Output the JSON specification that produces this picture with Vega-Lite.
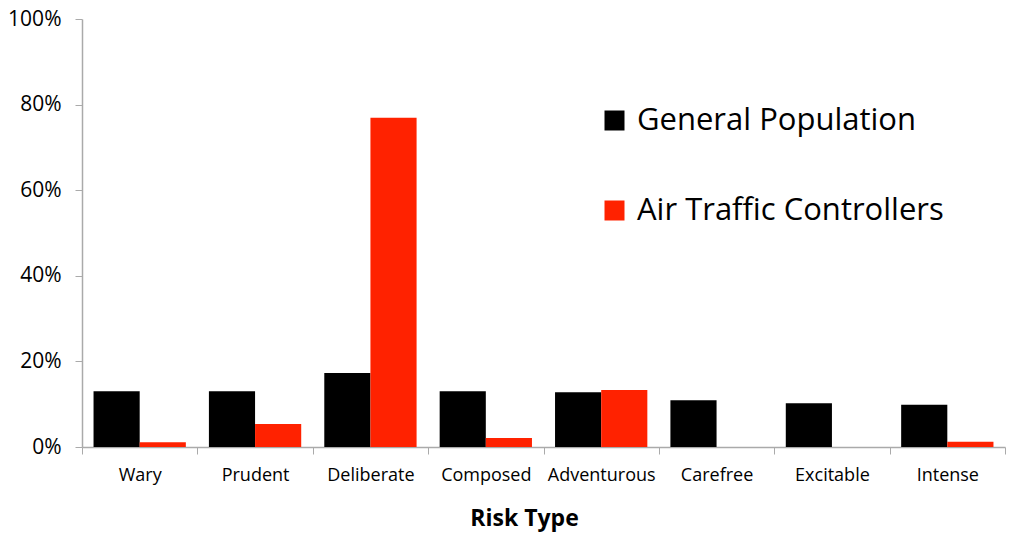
{
  "$schema": "https://vega.github.io/schema/vega-lite/v6.json",
  "width": 923,
  "height": 428,
  "autosize": {"type": "none"},
  "padding": {"left": 82, "top": 19, "right": 19, "bottom": 105},
  "background": "white",
  "config": {"view": {"stroke": null}, "font": "Open Sans"},
  "data": {
    "values": [
      {"type": "Wary", "group": "General Population", "value": 0.13},
      {"type": "Wary", "group": "Air Traffic Controllers", "value": 0.011},
      {"type": "Prudent", "group": "General Population", "value": 0.13},
      {"type": "Prudent", "group": "Air Traffic Controllers", "value": 0.054},
      {"type": "Deliberate", "group": "General Population", "value": 0.173},
      {"type": "Deliberate", "group": "Air Traffic Controllers", "value": 0.769},
      {"type": "Composed", "group": "General Population", "value": 0.13},
      {"type": "Composed", "group": "Air Traffic Controllers", "value": 0.021},
      {"type": "Adventurous", "group": "General Population", "value": 0.128},
      {"type": "Adventurous", "group": "Air Traffic Controllers", "value": 0.133},
      {"type": "Carefree", "group": "General Population", "value": 0.109},
      {"type": "Carefree", "group": "Air Traffic Controllers", "value": 0},
      {"type": "Excitable", "group": "General Population", "value": 0.102},
      {"type": "Excitable", "group": "Air Traffic Controllers", "value": 0},
      {"type": "Intense", "group": "General Population", "value": 0.099},
      {"type": "Intense", "group": "Air Traffic Controllers", "value": 0.012}
    ]
  },
  "mark": {"type": "bar"},
  "encoding": {
    "x": {
      "field": "type",
      "type": "nominal",
      "sort": null,
      "scale": {"paddingInner": 0, "paddingOuter": 0},
      "axis": {
        "title": "Risk Type",
        "labelAngle": 0,
        "tickBand": "extent",
        "tickSize": 7,
        "tickColor": "#aaaaaa",
        "domainColor": "#aaaaaa",
        "domainWidth": 1.5,
        "labelFontSize": 18,
        "labelPadding": 12,
        "labelColor": "black",
        "titleFontSize": 23,
        "titleFontWeight": "bold",
        "titleColor": "black",
        "titleX": 442,
        "titleY": 71,
        "titleBaseline": "middle"
      }
    },
    "xOffset": {
      "field": "group",
      "type": "nominal",
      "sort": ["General Population", "Air Traffic Controllers"],
      "scale": {"paddingInner": 0, "paddingOuter": 0.25}
    },
    "y": {
      "field": "value",
      "type": "quantitative",
      "scale": {"domain": [0, 1], "nice": false},
      "axis": {
        "title": null,
        "values": [0, 0.2, 0.4, 0.6, 0.8, 1],
        "format": ".0%",
        "grid": false,
        "tickSize": 7,
        "tickColor": "#aaaaaa",
        "domainColor": "#aaaaaa",
        "domainWidth": 1.5,
        "labelFontSize": 21,
        "labelPadding": 14,
        "labelColor": "black"
      }
    },
    "color": {
      "field": "group",
      "type": "nominal",
      "scale": {
        "domain": ["General Population", "Air Traffic Controllers"],
        "range": ["#000000", "#ff2200"]
      },
      "legend": {
        "title": null,
        "orient": "none",
        "legendX": 517,
        "legendY": 86,
        "symbolType": "square",
        "symbolSize": 400,
        "symbolStrokeWidth": 0,
        "symbolOpacity": 1,
        "labelFontSize": 31,
        "labelColor": "black",
        "labelOffset": 7,
        "rowPadding": 58,
        "padding": 0,
        "labelLimit": 500
      }
    }
  }
}
